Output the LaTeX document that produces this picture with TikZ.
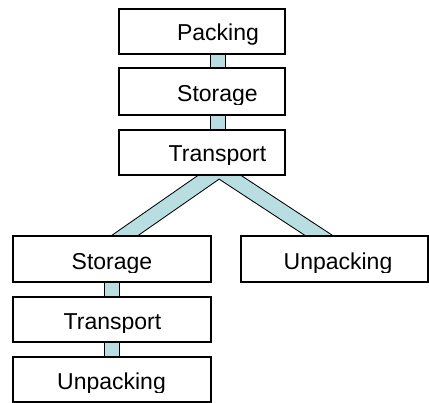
\documentclass[tikz,border=0pt]{standalone}
\usepackage{fontspec}
\setmainfont{Liberation Sans}
\usetikzlibrary{backgrounds}
\definecolor{barblue}{RGB}{185,222,225}
\tikzset{
  stagebox/.style={draw=black, line width=1.2pt, fill=white, rectangle, inner sep=0pt},
  stagetxt/.style={inner sep=0pt, anchor=base, font=\fontsize{23}{27}\selectfont},
  linkbar/.style={draw=black, line width=1pt, double=barblue, double distance=14pt, line join=miter, line cap=butt},
}
\newcommand{\stagelabel}[5]{% name, x, baseline y, text, box name
  \begin{scope}
    \clip (#5.north west) rectangle ([yshift=-3.3pt]#5.east |- {0,#3});
    \node[stagetxt] (#1) at (#2,#3) {#4};
  \end{scope}}
\begin{document}
\begin{tikzpicture}[x=1pt,y=-1pt]
\useasboundingbox (0,0) rectangle (429,403);
% boxes
\node[stagebox, minimum width=166pt, minimum height=45pt] (pk) at (202,31.5) {};
\node[stagebox, minimum width=166pt, minimum height=47pt] (st) at (202,91.5) {};
\node[stagebox, minimum width=166pt, minimum height=45pt] (tr) at (202,152.5) {};
\node[stagebox, minimum width=198pt, minimum height=46pt] (ls) at (112,259) {};
\node[stagebox, minimum width=187pt, minimum height=46pt] (ru) at (334.5,259) {};
\node[stagebox, minimum width=198pt, minimum height=45pt] (lt) at (112,319.5) {};
\node[stagebox, minimum width=198pt, minimum height=45pt] (lu) at (112,379.5) {};
% labels
\stagelabel{pkt}{218}{41}{Packing}{pk}
\stagelabel{stt}{217.5}{101.5}{Storage}{st}
\stagelabel{trt}{217.5}{161.7}{Transport}{tr}
\stagelabel{lst}{112}{269.5}{Storage}{ls}
\stagelabel{rut}{338}{269.5}{Unpacking}{ru}
\stagelabel{ltt}{112.5}{329.5}{Transport}{lt}
\stagelabel{lut}{111.5}{389.5}{Unpacking}{lu}
% connectors
\coordinate (apex) at (219,170);
\coordinate (lend) at (104,250);
\coordinate (rend) at (341,250);
\begin{pgfonlayer}{background}
  \draw[linkbar] ([xshift=16pt]pk.south) -- ([xshift=16pt]st.north);
  \draw[linkbar] ([xshift=16pt]st.south) -- ([xshift=16pt]tr.north);
  \draw[linkbar] (lend) -- (apex) -- (rend);
  \draw[linkbar] (ls.south) -- (lt.north);
  \draw[linkbar] (lt.south) -- (lu.north);
\end{pgfonlayer}
\end{tikzpicture}
\end{document}
